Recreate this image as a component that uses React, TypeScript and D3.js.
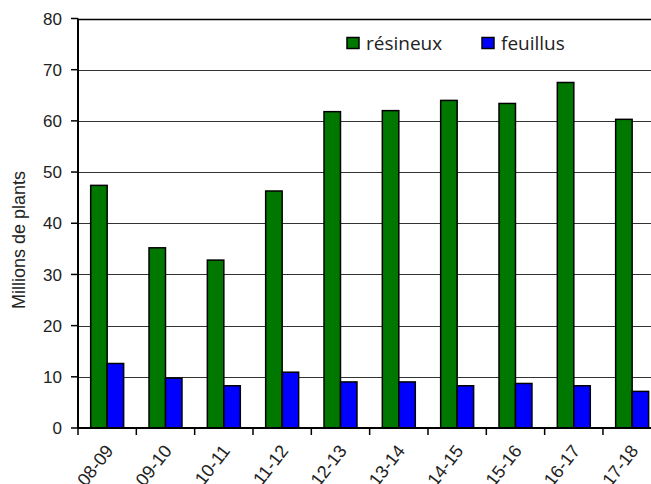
import React from "react";
import * as d3 from "d3";

const categories = ["08-09", "09-10", "10-11", "11-12", "12-13", "13-14", "14-15", "15-16", "16-17", "17-18"];
const resineux = [47.4, 35.2, 32.8, 46.3, 61.8, 62.0, 64.0, 63.4, 67.5, 60.3];
const feuillus = [12.6, 9.75, 8.25, 10.9, 9.0, 9.0, 8.25, 8.7, 8.25, 7.15];
const yTicks = [0, 10, 20, 30, 40, 50, 60, 70, 80];
const seriesNames = ["résineux", "feuillus"];
const colors = ["#007800", "#0000ff"];

export default function App() {
  const W = 651, H = 484;
  const left = 78, top = 18.5, bottom = 428;
  const bandW = 58.33;
  const x = d3.scaleBand<string>().domain(categories).range([left, left + bandW * categories.length]).paddingInner(0).paddingOuter(0);
  const y = d3.scaleLinear().domain([0, 80]).range([bottom, top]);
  const inner = d3.scaleBand<number>().domain([0, 1]).range([0, bandW]).paddingInner(0).paddingOuter(12.7 / 16.5);
  const series = [resineux, feuillus];
  const font = "'Liberation Sans', Arial, sans-serif";
  return (
    <svg width={W} height={H} style={{ position: "fixed", left: 0, top: 0, background: "#fff" }}>
      <rect x={0} y={0} width={W} height={H} fill="#fff" />
      {yTicks.filter(t => t > 0).map(t => (
        <line key={t} x1={left} x2={W} y1={Math.round(y(t)) + 0.5} y2={Math.round(y(t)) + 0.5} stroke={t === 80 ? "#000" : "#333"} strokeWidth={t === 80 ? 1.6 : 1} />
      ))}
      {series.map((vals, si) => vals.map((v, i) => (
        <rect key={si + "-" + i}
          x={(x(categories[i]) as number) + (inner(si) as number)}
          y={y(v)}
          width={inner.bandwidth()}
          height={bottom - y(v)}
          fill={colors[si]} stroke="#000" strokeWidth={1.5} />
      )))}
      <line x1={left} x2={left} y1={top} y2={bottom} stroke="#000" strokeWidth={2} />
      <line x1={left} x2={W} y1={bottom} y2={bottom} stroke="#000" strokeWidth={2} />
      {yTicks.map(t => (
        <g key={t}>
          <line x1={left - 7} x2={left} y1={y(t)} y2={y(t)} stroke="#000" strokeWidth={1.5} />
          <text x={left - 16} y={y(t)} dy="0.36em" textAnchor="end" fontFamily={font} fontSize={17} fill="#222">{t}</text>
        </g>
      ))}
      {categories.map((c, i) => (
        <line key={"t" + c} x1={(x(c) as number)} x2={(x(c) as number)} y1={bottom} y2={bottom + 7} stroke="#000" strokeWidth={1.5} />
      ))}
      {categories.map(c => {
        const cx = (x(c) as number) + bandW / 2 + 2;
        const cy = 447;
        return (
          <text key={"l" + c} x={cx} y={cy} transform={`rotate(-52 ${cx} ${cy})`} textAnchor="end" dy="0.36em" fontFamily={font} fontSize={18} fill="#222">{c}</text>
        );
      })}
      <text transform={`translate(25 240) rotate(-90)`} textAnchor="middle" fontFamily={font} fontSize={18} fill="#222">Millions de plants</text>
      {seriesNames.map((n, i) => {
        const lx = [347, 482][i];
        return (
          <g key={n}>
            <rect x={lx} y={37.5} width={12} height={11} fill={colors[i]} stroke="#000" strokeWidth={1.5} />
            <text x={lx + 19} y={50} fontFamily="'Open Sans', sans-serif" fontSize={19} fill="#222">{n}</text>
          </g>
        );
      })}
    </svg>
  );
}
